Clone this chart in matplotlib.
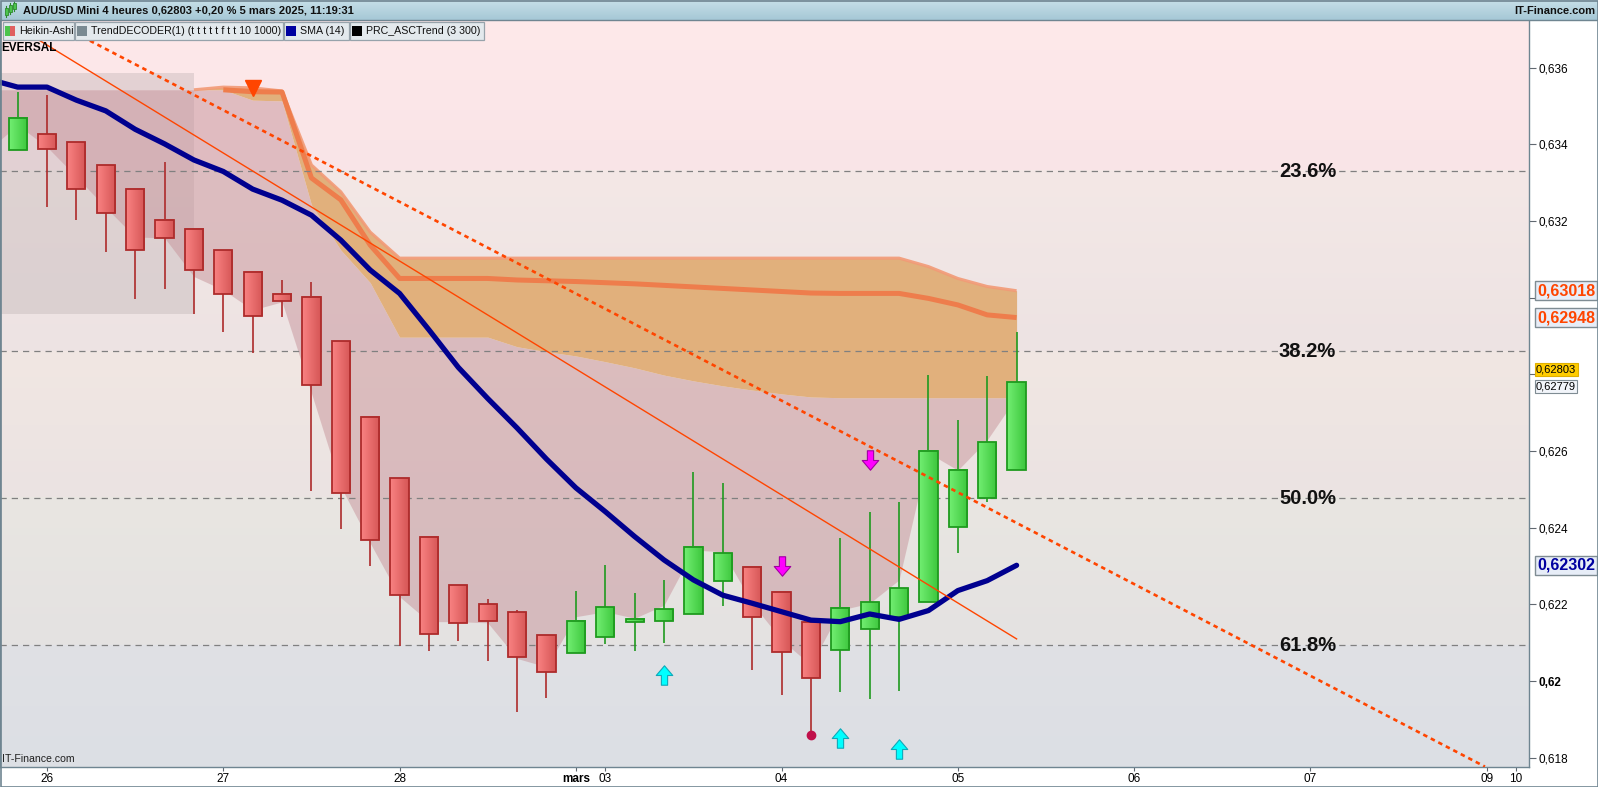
import matplotlib
matplotlib.use('Agg')
import matplotlib.pyplot as plt
import matplotlib.transforms as mtransforms
import numpy as np
from matplotlib.colors import LinearSegmentedColormap
from matplotlib.path import Path
from matplotlib.patches import Rectangle

plt.rcParams['font.family'] = ['Liberation Sans', 'DejaVu Sans']

# ─── Data ───────────────────────────────────────────────────────────────────
# Heikin-Ashi 4h candles, index 0 = last candle of 25 Feb
ha_open = [0.63384, 0.63426, 0.63405, 0.63345, 0.63283, 0.63202, 0.63178, 0.63123,
           0.63066, 0.63009, 0.63001, 0.62886, 0.62688, 0.62529, 0.62375, 0.62250,
           0.62200, 0.62179, 0.62119, 0.62072, 0.62114, 0.62153, 0.62158, 0.62174,
           0.62260, 0.62297, 0.62232, 0.62153, 0.62080, 0.62135, 0.62168, 0.62205,
           0.62401, 0.62477, 0.62550]
ha_high = [0.63536, 0.63528, 0.63405, 0.63345, 0.63283, 0.63353, 0.63178, 0.63123,
           0.63066, 0.63046, 0.63041, 0.62886, 0.62688, 0.62529, 0.62375, 0.62250,
           0.62214, 0.62185, 0.62119, 0.62235, 0.62303, 0.62230, 0.62264, 0.62545,
           0.62517, 0.62297, 0.62232, 0.62153, 0.62373, 0.62441, 0.62467, 0.62798,
           0.62681, 0.62796, 0.62910]
ha_low = [0.63384, 0.63237, 0.63203, 0.63120, 0.62997, 0.63023, 0.62958, 0.62911,
          0.62855, 0.62950, 0.62496, 0.62397, 0.62301, 0.62092, 0.62079, 0.62105,
          0.62053, 0.61919, 0.61955, 0.62072, 0.62097, 0.62079, 0.62100, 0.62174,
          0.62197, 0.62030, 0.61964, 0.61859, 0.61972, 0.61954, 0.61975, 0.62205,
          0.62335, 0.62468, 0.62550]
ha_close = [0.63468, 0.63387, 0.63283, 0.63220, 0.63123, 0.63155, 0.63071, 0.63009,
            0.62951, 0.62990, 0.62771, 0.62490, 0.62367, 0.62224, 0.62122, 0.62151,
            0.62156, 0.62062, 0.62023, 0.62158, 0.62192, 0.62161, 0.62187, 0.62349,
            0.62333, 0.62166, 0.62075, 0.62007, 0.62190, 0.62205, 0.62242, 0.62599,
            0.62550, 0.62623, 0.62779]

# SMA(14), index -1 .. 34
sma_idx = list(range(-1, 35))
sma14 = [0.63570, 0.63549, 0.63549, 0.63515, 0.63487, 0.63439, 0.63401, 0.63359,
         0.63329, 0.63283, 0.63254, 0.63215, 0.63150, 0.63072, 0.63011, 0.62916,
         0.62818, 0.62737, 0.62660, 0.62579, 0.62504, 0.62442, 0.62377, 0.62316,
         0.62264, 0.62224, 0.62203, 0.62181, 0.62159, 0.62155, 0.62175, 0.62161,
         0.62184, 0.62236, 0.62262, 0.62302]

# PRC_ASCTrend shaded zone, index -1 .. 34
zone_lower = [0.63385, 0.63450, 0.63393, 0.63315, 0.63235, 0.63158, 0.63156, 0.63055,
              0.63020, 0.62968, 0.62989, 0.62751, 0.62507, 0.62360, 0.62220, 0.62155,
              0.62155, 0.62152, 0.62059, 0.62037, 0.62168, 0.62181, 0.62164, 0.62198,
              0.62342, 0.62337, 0.62203, 0.62107, 0.62042, 0.62185, 0.62203, 0.62264,
              0.62595, 0.62550, 0.62629, 0.62741]
zone_upper = [0.63542, 0.63542, 0.63542, 0.63542, 0.63542, 0.63542, 0.63542, 0.63542,
              0.63542, 0.63515, 0.63513, 0.63242, 0.63124, 0.63039, 0.62897, 0.62897,
              0.62897, 0.62897, 0.62872, 0.62859, 0.62848, 0.62833, 0.62817, 0.62798,
              0.62783, 0.62770, 0.62759, 0.62749, 0.62741, 0.62739, 0.62739, 0.62739,
              0.62739, 0.62739, 0.62739, 0.62739]

# TrendDECODER resistance band, index 6 .. 34
band_idx = list(range(6, 35))
band_top = [0.63542, 0.63549, 0.63547, 0.63539, 0.63346, 0.63276, 0.63171, 0.63103,
            0.63103, 0.63103, 0.63103, 0.63103, 0.63103, 0.63103, 0.63103, 0.63103,
            0.63103, 0.63103, 0.63103, 0.63103, 0.63103, 0.63103, 0.63103, 0.63103,
            0.63103, 0.63081, 0.63050, 0.63029, 0.63018]
band_mid = [0.63542, 0.63542, 0.63537, 0.63536, 0.63312, 0.63255, 0.63137, 0.63050,
            0.63050, 0.63050, 0.63050, 0.63046, 0.63044, 0.63042, 0.63039, 0.63036,
            0.63032, 0.63028, 0.63024, 0.63020, 0.63016, 0.63012, 0.63011, 0.63011,
            0.63011, 0.62998, 0.62981, 0.62955, 0.62948]
band_low = zone_upper[7:]   # index 6 .. 34, same edge as the shaded zone

# trend lines (index, price) anchors
trend_solid = [(0.76, 0.63670), (34.0, 0.62110)]
trend_dashed = [(2.46, 0.63670), (49.94, 0.61777)]

fib_levels = [0.63330, 0.62860, 0.62477, 0.62093]
fib_labels = ['23.6%', '38.2%', '50.0%', '61.8%']

# signals
sell_tri = (8, 0.63547)
up_idx = [22, 28, 30]
up_y = [0.62016, 0.61852, 0.61823]
down_idx = [26, 29]
down_y = [0.62300, 0.62577]
dot_pt = (27, 0.61859)

x_ticks = [1, 7, 13, 19, 20, 26, 32, 38, 44, 50, 51]
x_labels = ['26', '27', '28', 'mars', '03', '04', '05', '06', '07', '09', '10']
y_ticks = [0.618, 0.620, 0.622, 0.624, 0.626, 0.628, 0.630, 0.632, 0.634, 0.636]
y_hidden = [0.628, 0.630]   # labels covered by the price tags

XMIN, XMAX = -0.6, 51.44
YMIN, YMAX = 0.61776, 0.63724

# ─── Figure ────────────────────────────────────────────────────────────────
W, H = 1598, 787
fig = plt.figure(figsize=(W / 100, H / 100), dpi=100)
fig.patch.set_facecolor('white')
ax = fig.add_axes([0, 20 / H, 1529 / W, 747 / H])


def vgrad(a, x0, x1, y0, y1, c_top, c_bot, z):
    cmap = LinearSegmentedColormap.from_list('g', [c_bot, c_top])
    g = np.linspace(0, 1, 64).reshape(-1, 1)
    a.imshow(g, extent=[x0, x1, y0, y1], origin='lower', cmap=cmap,
             aspect='auto', zorder=z, interpolation='bilinear')


def hgrad(a, x0, x1, y0, y1, c_left, c_right, z):
    cmap = LinearSegmentedColormap.from_list('h', [c_left, c_right])
    g = np.linspace(0, 1, 32).reshape(1, -1)
    a.imshow(g, extent=[x0, x1, y0, y1], origin='lower', cmap=cmap,
             aspect='auto', zorder=z, interpolation='bilinear')


# background zones between fib levels
zone_edges = [YMAX] + fib_levels + [YMIN]
zone_cols = [('#fee9ea', '#f9e4e7'), ('#f4e8e6', '#ede3e3'), ('#f1e7e3', '#ebe3e2'),
             ('#e9e6e1', '#e4e2e2'), ('#e0e1e5', '#dcdfe4')]
for (ytop, ybot), (ct, cb) in zip(zip(zone_edges[:-1], zone_edges[1:]), zone_cols):
    vgrad(ax, XMIN, XMAX, ybot, ytop, ct, cb, 0)

# grey box on the left
ax.add_patch(Rectangle((XMIN, 0.62958), 6 - XMIN, 0.63585 - 0.62958,
                       facecolor='#b3a6a9', alpha=0.32, edgecolor='none', zorder=1))

# shaded trend zone
ax.fill_between(sma_idx, zone_lower, zone_upper, color='#c7939a', alpha=0.5,
                linewidth=0, zorder=1.5)

# resistance band
ax.fill_between(band_idx, band_low, band_top, color='#e1b07c',
                linewidth=0, zorder=2)
ax.plot(band_idx, band_top, color='#f29a76', lw=2.2, alpha=0.9, zorder=2.5,
        solid_capstyle='butt')
ax.plot(band_idx[1:], band_mid[1:], color='#ee7d4c', lw=3.6, zorder=2.6,
        solid_capstyle='butt')

# fib levels
for lvl, lab in zip(fib_levels, fib_labels):
    ax.axhline(lvl, color='#808080', lw=0.9, dashes=(5, 4), zorder=3)
    ax.text(43.9, lvl, lab, ha='center', va='center', fontsize=14.5,
            fontweight='bold', color='#111111', zorder=8)

# Heikin-Ashi candles
body_w = 0.62
for i, (o, h, l, c) in enumerate(zip(ha_open, ha_high, ha_low, ha_close)):
    up = c >= o
    edge = '#1f9a1f' if up else '#ad2b2b'
    cl, cr = ('#72ee72', '#3dc73d') if up else ('#f98282', '#d65656')
    ax.plot([i, i], [l, h], color=edge, lw=1.2, zorder=4.9, solid_capstyle='butt')
    bot, top = min(o, c), max(o, c)
    hgrad(ax, i - body_w / 2, i + body_w / 2, bot, top, cl, cr, 5)
    ax.add_patch(Rectangle((i - body_w / 2, bot), body_w, top - bot, fill=False,
                           edgecolor=edge, lw=1.3, zorder=5.1))

# SMA 14
ax.plot(sma_idx, sma14, color='#00008f', lw=3.8, zorder=6, solid_capstyle='round')

# trend lines
(sx0, sy0), (sx1, sy1) = trend_solid
ax.plot([sx0, sx1], [sy0, sy1], color='#ff4500', lw=1.0, zorder=6.5)
(dx0, dy0), (dx1, dy1) = trend_dashed
ax.plot([dx0, dx1], [dy0, dy1], color='#ff4500', lw=1.9, dashes=(1.7, 1.5), zorder=6.5)

# signal markers
arrow_up = Path([(-0.32, -1), (0.32, -1), (0.32, 0), (0.85, 0), (0, 1), (-0.85, 0),
                 (-0.32, 0), (-0.32, -1)],
                [Path.MOVETO] + [Path.LINETO] * 6 + [Path.CLOSEPOLY])
arrow_dn = Path([(x, -y) for x, y in arrow_up.vertices], arrow_up.codes)
ax.plot(up_idx, up_y, ls='none', marker=arrow_up, ms=14, mfc='#00ffff',
        mec='#10a8b8', mew=0.8, zorder=7)
ax.plot(down_idx, down_y, ls='none', marker=arrow_dn, ms=14, mfc='#ff00ff',
        mec='#a000a0', mew=0.8, zorder=7)
ax.plot(*sell_tri, marker='v', ms=11, color='#ff4500', mec='#ff4500', zorder=7)
ax.plot(*dot_pt, marker='o', ms=6, color='#c0104a', zorder=7)

# axes cosmetics
ax.set_xlim(XMIN, XMAX)
ax.set_ylim(YMIN, YMAX)
ax.yaxis.tick_right()
ax.set_yticks(y_ticks)
ax.set_yticklabels(['' if v in y_hidden else ('%.3f' % v).rstrip('0').replace('.', ',')
                    for v in y_ticks])
for t, v in zip(ax.get_yticklabels(), y_ticks):
    if abs(v - 0.62) < 1e-9:
        t.set_fontweight('bold')
ax.set_xticks(x_ticks)
ax.set_xticklabels(x_labels)
ax.get_xticklabels()[3].set_fontweight('bold')
ax.tick_params(axis='y', direction='out', length=5, width=0.8, color='#606870',
               labelsize=8.5, pad=2)
ax.tick_params(axis='x', direction='out', length=3, width=0.8, color='#606870',
               labelsize=8.5, pad=1)
for side in ['left', 'right', 'bottom']:
    ax.spines[side].set_color('#6f8591')
    ax.spines[side].set_linewidth(1)
ax.spines['top'].set_visible(False)

# price tags on the right
trans = mtransforms.blended_transform_factory(ax.transAxes, ax.transData)
big_tags = [(0.63018, '#ff4500'), (0.62948, '#ff4500'), (0.62302, '#0000a0')]
for val, col in big_tags:
    ax.annotate(('%.5f' % val).replace('.', ','), xy=(1, val), xycoords=trans,
                xytext=(8, 0), textcoords='offset pixels', va='center', ha='left',
                fontsize=11.5, fontweight='bold', color=col, annotation_clip=False,
                bbox=dict(boxstyle='square,pad=0.12', fc='#e7edf7', ec='#7f8c93', lw=1))
ax.annotate('0,62803', xy=(1, 0.62803), xycoords=trans, xytext=(7, 4),
            textcoords='offset pixels', va='center', ha='left', fontsize=8,
            annotation_clip=False,
            bbox=dict(boxstyle='square,pad=0.12', fc='#ffcc00', ec='#e0b000', lw=0.8))
ax.annotate('0,62779', xy=(1, 0.62779), xycoords=trans, xytext=(7, -4),
            textcoords='offset pixels', va='center', ha='left', fontsize=8,
            annotation_clip=False,
            bbox=dict(boxstyle='square,pad=0.12', fc='#f2f5fa', ec='#7f8c93', lw=0.8))

# ─── Overlay: header, legend, captions ─────────────────────────────────────
ov = fig.add_axes([0, 0, 1, 1], zorder=10)
ov.set_xlim(0, W)
ov.set_ylim(H, 0)
ov.axis('off')
ov.patch.set_alpha(0)

cmap_h = LinearSegmentedColormap.from_list('hdr', ['#c6dfe8', '#a6c8d6'])
ov.imshow(np.linspace(0, 1, 32).reshape(-1, 1), extent=(0, W, 20, 0), origin='upper',
          cmap=cmap_h, aspect='auto', zorder=1)
ov.plot([0, W], [20, 20], color='#6f8591', lw=1, zorder=2)
# small candle icon
for cx, yt, yb in [(6, 8, 15), (10, 5, 12), (14, 3, 9)]:
    ov.plot([cx, cx], [yt - 2, yb + 2], color='#2c8a2c', lw=0.8, zorder=2)
    ov.add_patch(Rectangle((cx - 1.5, yt), 3, yb - yt, fc='#4cc44c', ec='#2c8a2c',
                           lw=0.6, zorder=3))
ov.text(23, 10.5, 'AUD/USD Mini 4 heures 0,62803 +0,20 % 5 mars 2025, 11:19:31',
        fontsize=8, fontweight='bold', va='center', ha='left', color='#101010', zorder=3)
ov.text(W - 3, 10.5, 'IT-Finance.com', fontsize=8, fontweight='bold', va='center',
        ha='right', color='#101010', zorder=3)

legend_items = [
    (3, 74, 'Heikin-Ashi', None),
    (75, 283, 'TrendDECODER(1) (t t t t t f t t 10 1000)', '#7a8a92'),
    (284, 349, 'SMA (14)', '#0000a0'),
    (350, 484, 'PRC_ASCTrend (3 300)', '#000000'),
]
for x0, x1, lab, col in legend_items:
    ov.add_patch(Rectangle((x0, 22), x1 - x0, 18, fc='#e3e9ed', ec='#97a3ab', lw=0.9,
                           zorder=2))
    if col is None:
        ov.add_patch(Rectangle((x0 + 2, 26), 5, 10, fc='#4cc44c', ec='none', zorder=3))
        ov.add_patch(Rectangle((x0 + 7, 26), 5, 10, fc='#e06060', ec='none', zorder=3))
    else:
        ov.add_patch(Rectangle((x0 + 2, 26), 10, 10, fc=col, ec='none', zorder=3))
    ov.text(x0 + 16, 31.5, lab, fontsize=7.7, va='center', ha='left',
            color='#101010', zorder=3)

ov.text(1, 48, 'EVERSAL', fontsize=8.5, fontweight='bold', va='center', ha='left',
        color='#000000', zorder=3)
ov.text(2, 759, 'IT-Finance.com', fontsize=7.6, va='center', ha='left',
        color='#202020', zorder=3)
ov.add_patch(Rectangle((0.5, 0.5), W - 1, H - 1, fill=False, ec='#6f8591', lw=1.2,
                       zorder=4))

fig.savefig('out.png', dpi=100)
